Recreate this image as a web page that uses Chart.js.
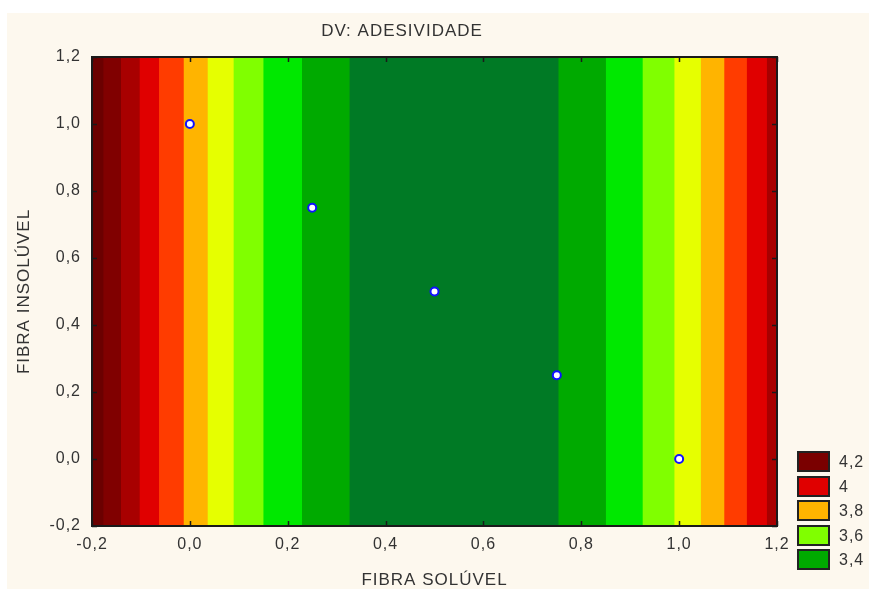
<!DOCTYPE html>
<html>
<head>
<meta charset="utf-8">
<script src="https://cdn.jsdelivr.net/npm/chart.js@4/dist/chart.umd.min.js"></script>
<style>
    body { margin: 0; background: #fff; }
    #wrap { position: relative; width: 869px; height: 589px; }
    .leg-box { position: absolute; left: 797px; width: 29px; height: 17px; border: 2px solid #222; }
    .leg-txt { position: absolute; left: 839px; font: 16px "Liberation Sans", Arial, sans-serif; letter-spacing: 1px; color: #333; line-height: 21px; }
</style>
</head>
<body>
<div id="wrap">
    <canvas id="contourChart"></canvas>
    <div id="legend"></div>
</div>
<script>
// contour bands (x edges along FIBRA SOLÚVEL), each band spans full y range
const bandEdges = [-0.2, -0.177, -0.141, -0.103, -0.063, -0.013, 0.036, 0.089, 0.150, 0.229, 0.326,
                   0.753, 0.850, 0.925, 0.990, 1.044, 1.092, 1.138, 1.179, 1.2];
const bandColors = ['#6B0000', '#800000', '#A80000', '#E00000', '#FF3C00', '#FFB400', '#E6FF00', '#80FF00',
                    '#00E800', '#00AA00', '#007A25', '#00AA00', '#00E800', '#80FF00', '#E6FF00', '#FFB400',
                    '#FF3C00', '#E00000', '#A80000'];

// design points
const pointsX = [0, 0.25, 0.5, 0.75, 1];
const pointsY = [1, 0.75, 0.5, 0.25, 0];

const axisMin = -0.2;
const axisMax = 1.2;

const chartTitle = 'DV: ADESIVIDADE';
const legendLabels = ['4,2', '4', '3,8', '3,6', '3,4'];
const legendColors = ['#7A0000', '#E00000', '#FFB400', '#80FF00', '#00AA00'];

const fontFamily = '"Liberation Sans", Arial, sans-serif';
const fmt = v => (Math.round(v * 10) / 10 + 0).toFixed(1).replace('.', ',');

const datasets = [{
    label: 'pontos',
    data: pointsX.map((x, i) => ({ x: x, y: pointsY[i] })),
    pointRadius: 4,
    pointBackgroundColor: '#fff',
    pointBorderColor: '#1010FF',
    pointBorderWidth: 2,
    order: -100
}];

// each band is filled from its left edge to the right end; the next band is painted over it (no seams)
for (let i = 0; i < bandColors.length; i++) {
    datasets.push({
        label: 'band' + i,
        data: [{ x: bandEdges[i], y: axisMax }, { x: axisMax, y: axisMax }],
        showLine: true,
        fill: 'start',
        backgroundColor: bandColors[i],
        borderWidth: 0,
        pointRadius: 0,
        order: bandColors.length - i
    });
}

const spacing = chart => { chart.ctx.letterSpacing = '1px'; };

const framePlugin = {
    id: 'frame',
    beforeUpdate: spacing,
    beforeDraw(chart) {
        spacing(chart);
        const c = chart.ctx;
        c.save();
        c.fillStyle = '#FDF8EE';
        c.fillRect(7, 13, chart.width - 7, chart.height - 13);
        c.restore();
    },
    afterDatasetsDraw(chart) {
        const c = chart.ctx;
        const a = chart.chartArea;
        const xs = chart.scales.x;
        const ys = chart.scales.y;
        c.save();
        c.strokeStyle = '#1a1a1a';
        c.lineWidth = 1.5;
        c.beginPath();
        xs.ticks.forEach(t => {
            const px = Math.round(xs.getPixelForValue(t.value)) + 0.5;
            c.moveTo(px, a.bottom); c.lineTo(px, a.bottom - 5);
            c.moveTo(px, a.top); c.lineTo(px, a.top + 5);
        });
        ys.ticks.forEach(t => {
            const py = Math.round(ys.getPixelForValue(t.value)) + 0.5;
            c.moveTo(a.left, py); c.lineTo(a.left + 5, py);
            c.moveTo(a.right, py); c.lineTo(a.right - 5, py);
        });
        c.stroke();
        c.lineWidth = 2;
        c.strokeRect(a.left, a.top, a.right - a.left, a.bottom - a.top);
        // title, STATISTICA places it a bit left of the plot centre
        c.fillStyle = '#333';
        c.font = '17px ' + fontFamily;
        c.textAlign = 'center';
        c.textBaseline = 'middle';
        c.fillText(chartTitle, 402, 31);
        c.restore();
    }
};

const ctx = document.getElementById('contourChart');

new Chart(ctx, {
    type: 'scatter',
    data: { datasets: datasets },
    plugins: [framePlugin],
    options: {
        responsive: true,
        maintainAspectRatio: false,
        animation: false,
        events: [],
        layout: { padding: { left: 0, right: 92, top: 57, bottom: 0 } },
        plugins: {
            legend: { display: false },
            tooltip: { enabled: false },
            title: { display: false }
        },
        scales: {
            x: {
                type: 'linear',
                min: axisMin,
                max: axisMax,
                afterFit: scale => { scale.height = 63; },
                ticks: {
                    stepSize: 0.2,
                    padding: 9,
                    color: '#333',
                    font: { family: fontFamily, size: 16 },
                    callback: v => fmt(v)
                },
                grid: { display: false, drawTicks: false },
                border: { display: false },
                title: {
                    display: true,
                    text: 'FIBRA SOLÚVEL',
                    color: '#333',
                    font: { family: fontFamily, size: 17, lineHeight: 1 },
                    padding: { top: 0, bottom: 0 }
                }
            },
            y: {
                type: 'linear',
                min: axisMin,
                max: axisMax,
                afterFit: scale => { scale.width = 92; },
                ticks: {
                    stepSize: 0.2,
                    padding: 11,
                    color: '#333',
                    font: { family: fontFamily, size: 16 },
                    callback: v => fmt(v)
                },
                grid: { display: false, drawTicks: false },
                border: { display: false },
                title: {
                    display: true,
                    text: 'FIBRA INSOLÚVEL',
                    color: '#333',
                    font: { family: fontFamily, size: 17, lineHeight: 1 },
                    padding: { top: 16, bottom: 0 }
                }
            }
        }
    }
});

// legend (only the visible part of the STATISTICA legend)
const legendEl = document.getElementById('legend');
legendLabels.forEach((lab, i) => {
    const top = 451 + i * 24.5;
    const box = document.createElement('div');
    box.className = 'leg-box';
    box.style.top = top + 'px';
    box.style.background = legendColors[i];
    const txt = document.createElement('div');
    txt.className = 'leg-txt';
    txt.style.top = top + 'px';
    txt.textContent = lab;
    legendEl.appendChild(box);
    legendEl.appendChild(txt);
});
</script>
</body>
</html>
